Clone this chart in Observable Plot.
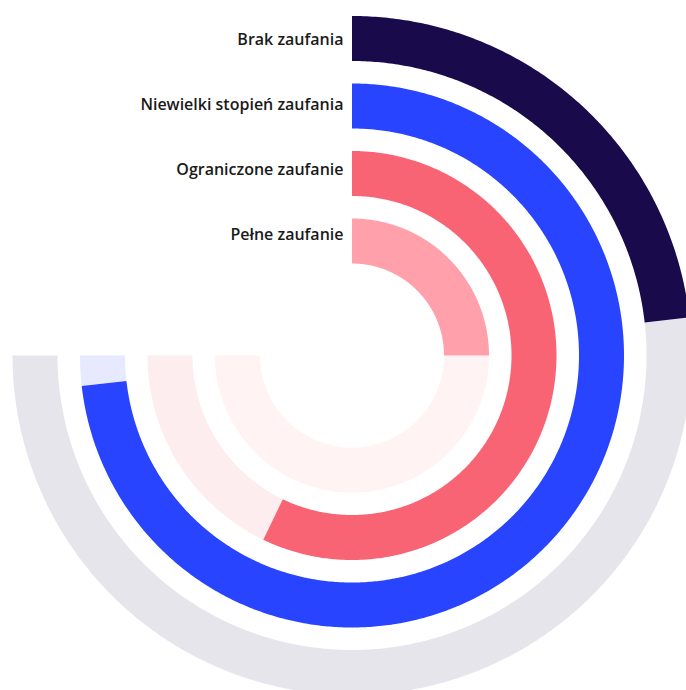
<!DOCTYPE html>
<html><head><meta charset="utf-8">
<script src="https://cdn.jsdelivr.net/npm/d3@7"></script>
<script src="https://cdn.jsdelivr.net/npm/@observablehq/plot@0.6"></script>
<style>html,body{margin:0;padding:0;background:#fff}</style></head>
<body><div id="chart"></div>
<script>
// Data (outer ring first)
const categories = ["Brak zaufania", "Niewielki stopień zaufania", "Ograniczone zaufanie", "Pełne zaufanie"];
const values = [13, 41, 32, 14];
const scaleMax = 42;
const barColors = ["#190a4b", "#2944ff", "#f96475", "#ffa0ab"];
const trackColors = ["#e6e5ec", "#e7eaff", "#fdedef", "#fff3f4"];

// Layout
const W = 686, H = 690, cx = 351.5, cy = 355;
const innerR = 92, band = 45, step = 67.5, sweep = 270;
const labelTop = 316, labelStep = 65;
const n = categories.length;

const angle = d3.scaleLinear().domain([0, scaleMax]).range([0, sweep]);

function arcPoly(r0, r1, a0, a1) {
  const k = Math.max(4, Math.ceil(Math.abs(a1 - a0) * 2));
  const pts = [];
  for (let j = 0; j <= k; j++) {
    const a = (a0 + (a1 - a0) * j / k) * Math.PI / 180;
    pts.push({x: r1 * Math.sin(a), y: r1 * Math.cos(a)});
  }
  for (let j = k; j >= 0; j--) {
    const a = (a0 + (a1 - a0) * j / k) * Math.PI / 180;
    pts.push({x: r0 * Math.sin(a), y: r0 * Math.cos(a)});
  }
  return pts;
}

const marks = [];
const labels = [];
categories.forEach((c, i) => {
  const r0 = innerR + (n - 1 - i) * step;
  const r1 = r0 + band;
  const a = angle(values[i]);
  marks.push(Plot.line(arcPoly(r0, r1, a, sweep), {x: "x", y: "y", fill: trackColors[i], stroke: "none", curve: "linear-closed"}));
  marks.push(Plot.line(arcPoly(r0, r1, 0, a), {x: "x", y: "y", fill: barColors[i], stroke: "none", curve: "linear-closed"}));
  labels.push({label: c, pos: labelTop - i * labelStep});
});

marks.push(Plot.text(labels, {
  x: () => -8.5, y: "pos", text: "label", textAnchor: "end",
  fontSize: 16, fontWeight: 600, fill: "#1a1a1a"
}));

const chart = Plot.plot({
  width: W, height: H,
  margin: 0,
  style: {fontFamily: "'Open Sans', sans-serif", background: "#fff"},
  x: {domain: [-cx, W - cx], axis: null},
  y: {domain: [-(H - cy), cy], axis: null},
  marks
});
document.getElementById("chart").appendChild(chart);
</script>
</body></html>
